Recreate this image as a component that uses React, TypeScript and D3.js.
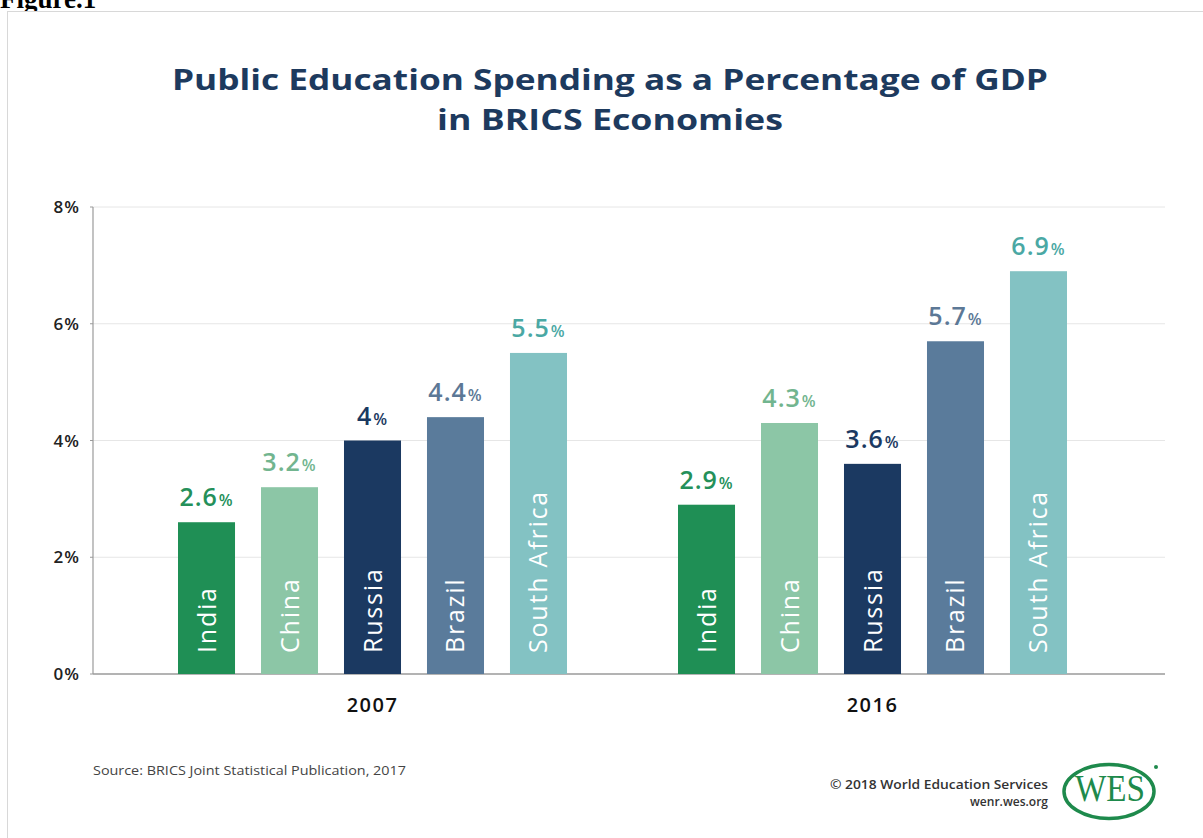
import React from "react";
import * as d3 from "d3";

const years = ["2007", "2016"];
const countries = ["India", "China", "Russia", "Brazil", "South Africa"];
const values2007 = [2.6, 3.2, 4.0, 4.4, 5.5];
const values2016 = [2.9, 4.3, 3.6, 5.7, 6.9];
const valueLabels2007 = ["2.6", "3.2", "4", "4.4", "5.5"];
const valueLabels2016 = ["2.9", "4.3", "3.6", "5.7", "6.9"];
const yTicks = [0, 2, 4, 6, 8];

const barColors = ["#1f8f55", "#8cc6a6", "#1b3961", "#5a7b9b", "#83c2c3"];
const labelColors = ["#24905a", "#72b58f", "#1b3961", "#5c7896", "#4aa8a4"];

const W = 1203;
const H = 838;

export default function App() {
  const y = d3.scaleLinear().domain([0, 8]).range([674, 207]);
  const x0 = d3.scaleBand<string>().domain(years).range([122.5, 1122.5]).padding(0);
  const x1 = d3
    .scaleBand<string>()
    .domain(countries)
    .range([55.5, 444.5])
    .paddingInner(0.313)
    .paddingOuter(0);
  const data = [
    { year: "2007", values: values2007, labels: valueLabels2007 },
    { year: "2016", values: values2016, labels: valueLabels2016 },
  ];
  const font = "'Open Sans', 'DejaVu Sans', sans-serif";
  const axisLeft = 93;
  const axisRight = 1165;

  return (
    <svg
      width={W}
      height={H}
      style={{ position: "absolute", left: 0, top: 0, background: "#fff" }}
    >
      <text x={0} y={8} fontFamily="'Liberation Serif', 'Times New Roman', serif" fontWeight="bold" fontSize={27} fill="#000">
        Figure.1
      </text>
      <rect x={7.5} y={11.5} width={1300} height={900} fill="#fff" stroke="#d8d8d8" strokeWidth={1} />

      <text x={610} y={90} textAnchor="middle" fontFamily={font} fontWeight="bold" fontSize={29} fill="#1d3a5e" textLength={876} lengthAdjust="spacingAndGlyphs">
        Public Education Spending as a Percentage of GDP
      </text>
      <text x={610} y={130} textAnchor="middle" fontFamily={font} fontWeight="bold" fontSize={29} fill="#1d3a5e" textLength={346} lengthAdjust="spacingAndGlyphs">
        in BRICS Economies
      </text>

      {yTicks.map((t) => (
        <g key={t}>
          <line
            x1={axisLeft}
            x2={axisRight}
            y1={y(t)}
            y2={y(t)}
            stroke={t === 0 ? "#9a9a9a" : "#e6e6e6"}
            strokeWidth={t === 0 ? 1.5 : 1}
          />
          <line x1={axisLeft - 3} x2={axisLeft} y1={y(t)} y2={y(t)} stroke="#9a9a9a" />
          <text x={80} y={y(t) + 6} textAnchor="end" fontFamily={font} fontWeight="600" fontSize={17} letterSpacing={1} fill="#222">
            {t}%
          </text>
        </g>
      ))}
      <line x1={axisLeft} x2={axisLeft} y1={y(8)} y2={y(0)} stroke="#9a9a9a" strokeWidth={1.2} />

      {data.map((g) => {
        const gx = x0(g.year) as number;
        return (
          <g key={g.year} transform={`translate(${gx},0)`}>
            {countries.map((c, i) => {
              const bx = x1(c) as number;
              const bw = x1.bandwidth();
              const v = g.values[i];
              const cx = bx + bw / 2;
              return (
                <g key={c}>
                  <rect x={bx} y={y(v)} width={bw} height={y(0) - y(v)} fill={barColors[i]} />
                  <text x={cx} y={y(v) - 16} textAnchor="middle" fontFamily={font} fontWeight="600" fill={labelColors[i]} letterSpacing={1}>
                    <tspan fontSize={25}>{g.labels[i]}</tspan>
                    <tspan fontSize={16} dx={1}>%</tspan>
                  </text>
                  <text
                    transform={`translate(${cx + 9},${653}) rotate(-90)`}
                    textAnchor="start"
                    fontFamily={font}
                    fontSize={25}
                    fill="#fff"
                    letterSpacing={1.8}
                  >
                    {c}
                  </text>
                </g>
              );
            })}
            <text x={250} y={712} textAnchor="middle" fontFamily={font} fontWeight="600" fontSize={20} letterSpacing={1.5} fill="#111">
              {g.year}
            </text>
          </g>
        );
      })}

      <text x={93} y={775} fontFamily={font} fontSize={13} fill="#444" textLength={313} lengthAdjust="spacingAndGlyphs">
        Source: BRICS Joint Statistical Publication, 2017
      </text>
      <text x={1048} y={789} textAnchor="end" fontFamily={font} fontWeight="600" fontSize={12.5} fill="#333" textLength={218} lengthAdjust="spacingAndGlyphs">
        © 2018 World Education Services
      </text>
      <text x={1048} y={806} textAnchor="end" fontFamily={font} fontWeight="600" fontSize={12.5} fill="#333" textLength={78} lengthAdjust="spacingAndGlyphs">
        wenr.wes.org
      </text>
      <ellipse cx={1109} cy={791.5} rx={45} ry={27} fill="none" stroke="#1e8a4c" strokeWidth={3.5} />
      <circle cx={1156} cy={767} r={2} fill="#1e8a4c" />
      <text x={1110} y={801} textAnchor="middle" fontFamily="'Liberation Serif', serif" fontSize={38} fill="#1e8a4c" textLength={70} lengthAdjust="spacingAndGlyphs">
        WES
      </text>
    </svg>
  );
}
